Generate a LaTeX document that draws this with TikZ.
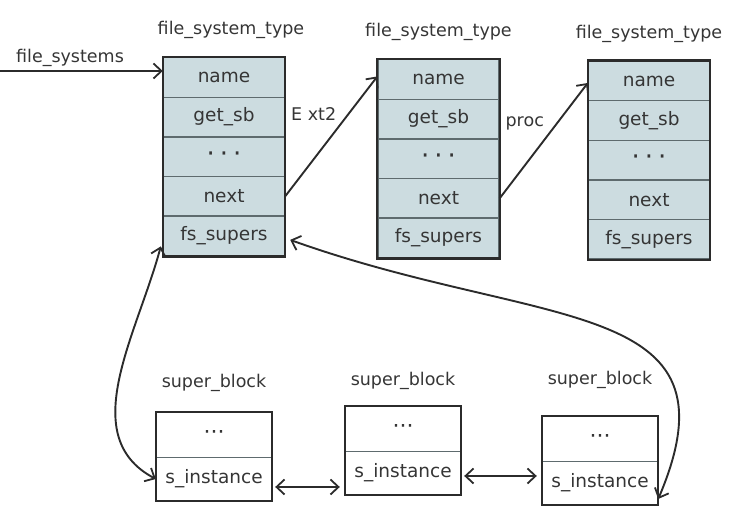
\documentclass[tikz,border=0pt]{standalone}
\usepackage{fontspec}
\setmainfont{DejaVu Sans}
\usepackage{xcolor}
\usetikzlibrary{positioning,arrows.meta}

\definecolor{fieldfill}{HTML}{CCDCE0}
\definecolor{rulegray}{HTML}{5E6B6E}
\definecolor{inkdark}{HTML}{2B2B2B}
\definecolor{textgray}{HTML}{353535}

\tikzset{
	barb/.tip={Straight Barb[length=8pt,width=15pt,line width=1.8pt]},
	field/.style={fill=fieldfill, draw=rulegray, line width=1.4pt, minimum width=121pt, minimum height=39.6pt, inner sep=0pt, text=textgray, font=\fontsize{18.5}{20}\selectfont},
	sbtop/.style={draw=rulegray, line width=1.4pt, minimum width=115pt, minimum height=45pt, inner sep=0pt, text=textgray, font=\fontsize{18.5}{20}\selectfont},
	sbbot/.style={sbtop, minimum height=43pt},
	caption/.style={text=textgray, font=\fontsize{17.5}{20}\selectfont},
	frame/.style={draw=inkdark, line width=2.3pt},
	link/.style={inkdark, line width=1.9pt, -barb},
	both/.style={link, barb-barb}
}
\newcommand{\spreaddots}{{\fontsize{26}{20}\selectfont ·\hspace{5pt}·\hspace{5pt}·}}
\newcommand{\packdots}{{\fontsize{22}{20}\selectfont ···}}

\begin{document}
\begin{tikzpicture}[x=1pt,y=1pt,node distance=39.6pt,on grid,auto]
		\useasboundingbox (0,0) rectangle (742,510);

		% file_system_type list
		\node[field]	(fs1_name)	at (224,432.5)				{name};
		\node[field]	(fs1_sb)	[below=of fs1_name]		{get\_sb};
		\node[field]	(fs1_dots)	[below=of fs1_sb]		{\spreaddots};
		\node[field]	(fs1_next)	[below=of fs1_dots]		{next};
		\node[field]	(fs1_super)	[below=of fs1_next]		{fs\_supers};
		\node[caption]	(fs1_title)	[above=47.5pt of fs1_name, xshift=7pt]	{file\_system\_type};

		\node[field]	(fs2_name)	at (438.5,430.5)			{name};
		\node[field]	(fs2_sb)	[below=of fs2_name]		{get\_sb};
		\node[field]	(fs2_dots)	[below=of fs2_sb]		{\spreaddots};
		\node[field]	(fs2_next)	[below=of fs2_dots]		{next};
		\node[field]	(fs2_super)	[below=of fs2_next]		{fs\_supers};
		\node[caption]	(fs2_title)	[above=47.5pt of fs2_name]	{file\_system\_type};

		\node[field]	(fs3_name)	at (649,429)				{name};
		\node[field]	(fs3_sb)	[below=of fs3_name]		{get\_sb};
		\node[field]	(fs3_dots)	[below=of fs3_sb]		{\spreaddots};
		\node[field]	(fs3_next)	[below=of fs3_dots]		{next};
		\node[field]	(fs3_super)	[below=of fs3_next]		{fs\_supers};
		\node[caption]	(fs3_title)	[above=47.5pt of fs3_name]	{file\_system\_type};

		\draw[frame]	(fs1_name.north west) rectangle (fs1_super.south east);
		\draw[frame]	(fs2_name.north west) rectangle (fs2_super.south east);
		\draw[frame]	(fs3_name.north west) rectangle (fs3_super.south east);

		% super_block list
		\node[sbtop]	(sb1_top)	at (214,75)					{\packdots};
		\node[sbbot]	(sb1_inst)	[below=44pt of sb1_top]		{s\_instance};
		\node[caption]	(sb1_title)	[above=52pt of sb1_top]		{super\_block};

		\node[sbtop]	(sb2_top)	at (403,81)					{\packdots};
		\node[sbbot]	(sb2_inst)	[below=44pt of sb2_top]		{s\_instance};
		\node[caption]	(sb2_title)	[above=48pt of sb2_top]		{super\_block};

		\node[sbtop]	(sb3_top)	at (600,71)					{\packdots};
		\node[sbbot]	(sb3_inst)	[below=44pt of sb3_top]		{s\_instance};
		\node[caption]	(sb3_title)	[above=59pt of sb3_top]		{super\_block};

		\draw[frame]	(sb1_top.north west) rectangle (sb1_inst.south east);
		\draw[frame]	(sb2_top.north west) rectangle (sb2_inst.south east);
		\draw[frame]	(sb3_top.north west) rectangle (sb3_inst.south east);

		% head pointer
		\coordinate		(head)		at (0,439);
		\draw[link]		(head) -- node[caption,pos=0.43] {file\_systems} ([yshift=6.5pt]fs1_name.west);

		\path[link]	(fs1_next.east)	edge	node[caption,pos=0.6]	{E xt2}	([yshift=3pt]fs2_name.west)
					(fs2_next.east)	edge	node[caption,pos=0.55]	{proc}	([yshift=-2pt]fs3_name.west);

		\draw[both]	(sb1_inst.west) to[out=152,in=255] ([xshift=-2pt,yshift=10pt]fs1_super.south west);
		\draw[both]	([yshift=-16pt]sb3_inst.east) .. controls (745,215) and (542,180) .. ([xshift=5pt,yshift=-4pt]fs1_super.east);
		\draw[both,shorten <=3pt,shorten >=5pt]	([yshift=-8pt]sb1_inst.east) -- ([yshift=-8pt]sb1_inst.east -| sb2_inst.west);
		\draw[both,shorten <=3pt,shorten >=5pt]	([yshift=-3pt]sb2_inst.east) -- ([yshift=-3pt]sb2_inst.east -| sb3_inst.west);
\end{tikzpicture}
\end{document}
